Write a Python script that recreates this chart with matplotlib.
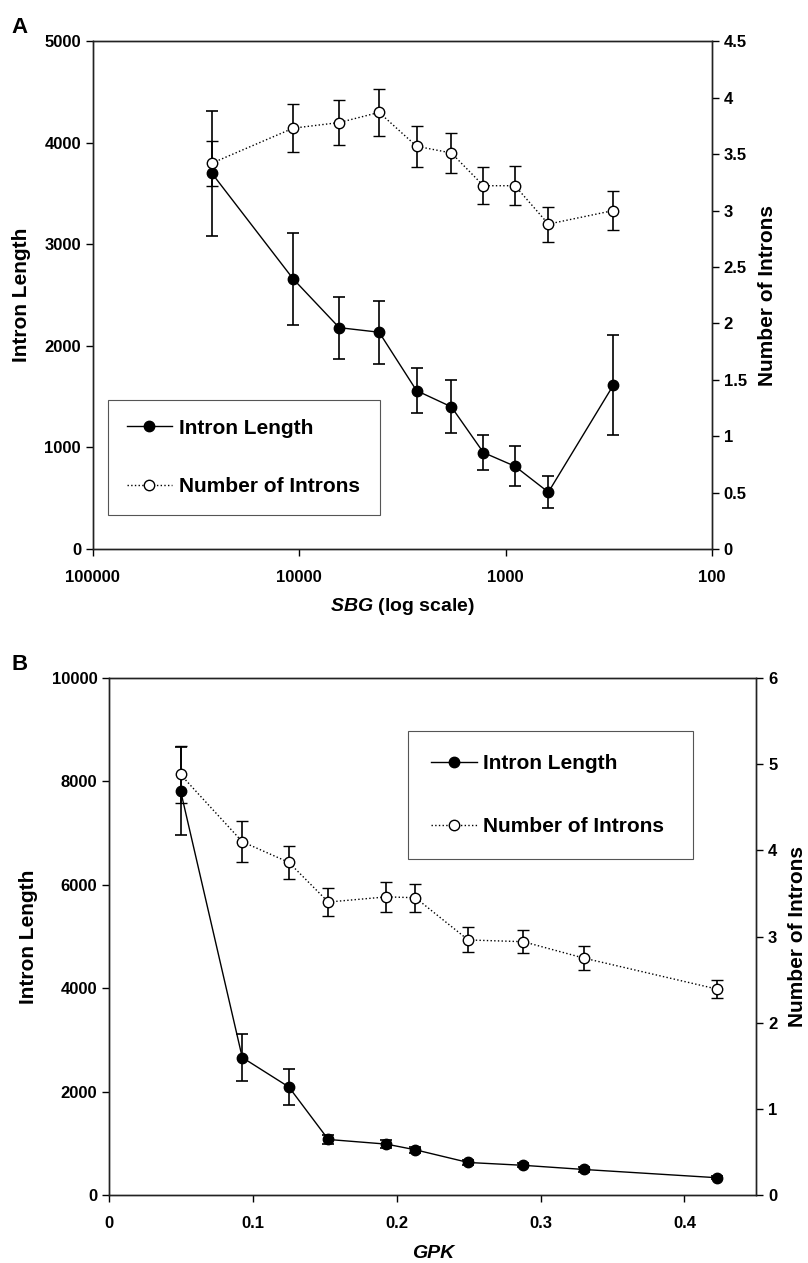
import numpy as np
import matplotlib
matplotlib.use("Agg")
import matplotlib.pyplot as plt
from matplotlib.lines import Line2D
from matplotlib.ticker import FixedLocator, FuncFormatter, NullLocator

plt.rcParams['font.family'] = ['Liberation Sans', 'DejaVu Sans']
plt.rcParams['font.weight'] = 'bold'
plt.rcParams['mathtext.fontset'] = 'custom'
plt.rcParams['mathtext.it'] = 'Liberation Sans:italic:bold'
plt.rcParams['mathtext.rm'] = 'Liberation Sans:bold'

# Panel A: SBG (log scale)
sbg = [26500, 10700, 6400, 4100, 2700, 1830, 1280, 900, 620, 300]
len_a = [3700, 2660, 2180, 2135, 1560, 1400, 950, 815, 560, 1615]
len_a_err = [615, 450, 305, 310, 222, 260, 176, 195, 160, 490]
num_a = [3.42, 3.73, 3.78, 3.87, 3.57, 3.51, 3.22, 3.22, 2.88, 3.0]
num_a_err = [0.2, 0.21, 0.2, 0.21, 0.18, 0.18, 0.165, 0.175, 0.155, 0.17]

# Panel B: GPK
gpk = [0.0497, 0.0926, 0.125, 0.1524, 0.1928, 0.213, 0.2497, 0.288, 0.330, 0.4227]
len_b = [7820, 2660, 2090, 1075, 985, 875, 630, 575, 495, 335]
len_b_err = [850, 457, 346, 80, 70, 60, 40, 40, 40, 30]
num_b = [4.88, 4.1, 3.86, 3.4, 3.46, 3.45, 2.96, 2.94, 2.75, 2.39]
num_b_err = [0.33, 0.24, 0.19, 0.16, 0.17, 0.16, 0.145, 0.13, 0.135, 0.1]

etiquetas = ['Intron Length', 'Number of Introns']

fig = plt.figure(figsize=(8.08, 12.63), dpi=100)

fmt = FuncFormatter(lambda v, p: '%g' % v)


def dibujar(ax, x, y1, e1, y2, e2):
    ax2 = ax.twinx()
    ax.errorbar(x, y1, yerr=e1, color='black', lw=1, marker='o', ms=7.5,
                mfc='black', mec='black', ecolor='black', elinewidth=1.2,
                capsize=4, capthick=1.2)
    ax2.errorbar(x, y2, yerr=e2, color='black', lw=1, ls=':', marker='o',
                 ms=7.5, mfc='white', mec='black', mew=1, ecolor='black',
                 elinewidth=1.2, capsize=4, capthick=1.2)
    for a in (ax, ax2):
        a.tick_params(direction='out', length=5, width=1, labelsize=12)
        for s in a.spines.values():
            s.set_linewidth(1)
            s.set_color('#222222')
    ax.tick_params(axis='x', pad=10)
    ax.set_ylabel('Intron Length', fontsize=15, fontweight='bold', labelpad=10)
    ax2.set_ylabel('Number of Introns', fontsize=15, fontweight='bold', labelpad=8)
    ax2.yaxis.set_major_formatter(fmt)
    return ax2


def leyenda(ax2, caja, esp, borde):
    h = [Line2D([], [], color='black', lw=1, marker='o', ms=7.5, mfc='black', mec='black'),
         Line2D([], [], color='black', lw=1, ls=':', marker='o', ms=7.5, mfc='white', mec='black')]
    leg = ax2.legend(h, etiquetas, loc='lower left', bbox_to_anchor=caja,
                     mode='expand', fancybox=False, edgecolor='#555555',
                     prop={'size': 15, 'weight': 'bold'}, handlelength=2.2,
                     handletextpad=0.3, labelspacing=esp, borderpad=borde,
                     borderaxespad=0, framealpha=1)
    leg.get_frame().set_linewidth(0.8)


# ---- A ----
axA = fig.add_axes([0.115, 0.5653, 0.766, 0.402])
axA2 = dibujar(axA, sbg, len_a, len_a_err, num_a, num_a_err)
axA.set_xscale('log')
axA.set_xlim(100000, 100)
axA.xaxis.set_major_locator(FixedLocator([100000, 10000, 1000, 100]))
axA.xaxis.set_minor_locator(NullLocator())
axA.xaxis.set_major_formatter(FuncFormatter(lambda v, p: '%d' % v))
axA.set_ylim(0, 5000)
axA.set_yticks([0, 1000, 2000, 3000, 4000, 5000])
axA2.set_ylim(0, 4.5)
axA2.set_yticks(np.arange(0, 4.51, 0.5))
axA.set_xlabel(r'$SBG$ (log scale)', fontsize=14, fontweight='bold', labelpad=8)
leyenda(axA2, (0.024, 0.067, 0.44, 0.236), 1.9, 0.9)
fig.text(0.014, 0.978, 'A', fontsize=16, fontweight='bold', va='center')

# ---- B ----
axB = fig.add_axes([0.135, 0.0538, 0.801, 0.4094])
axB2 = dibujar(axB, gpk, len_b, len_b_err, num_b, num_b_err)
axB.set_xlim(0, 0.45)
axB.set_xticks([0, 0.1, 0.2, 0.3, 0.4])
axB.xaxis.set_major_formatter(fmt)
axB.set_ylim(0, 10000)
axB.set_yticks(np.arange(0, 10001, 2000))
axB2.set_ylim(0, 6)
axB2.set_yticks(range(0, 7))
axB.set_xlabel('GPK', fontsize=14, fontweight='bold', fontstyle='italic', labelpad=10)
leyenda(axB2, (0.462, 0.65, 0.44, 0.25), 2.1, 1.1)
fig.text(0.014, 0.474, 'B', fontsize=16, fontweight='bold', va='center')

fig.savefig('out.png', dpi=100)
